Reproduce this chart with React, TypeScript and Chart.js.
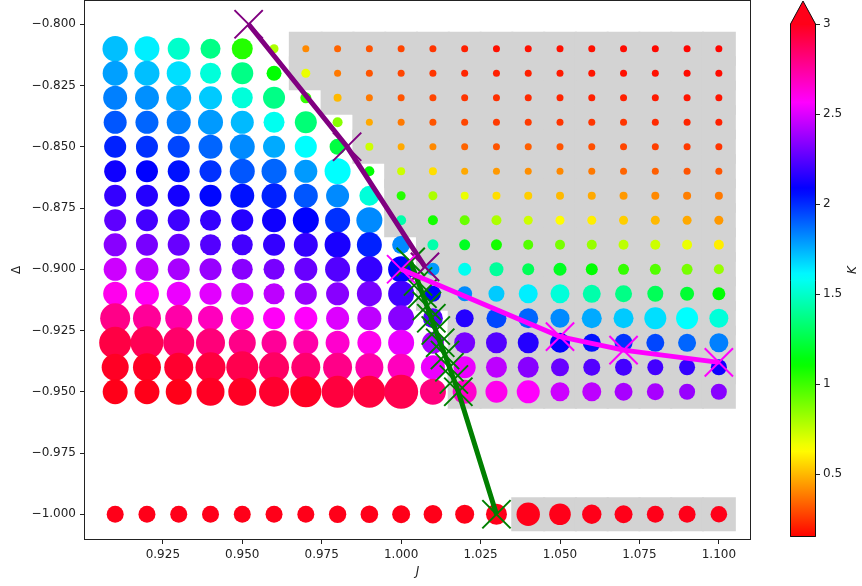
import React, { useEffect, useRef } from 'react';
import { Chart, registerables } from 'chart.js';

Chart.register(...registerables);

// ---------- data ----------
const J_VALUES = [0.91, 0.92, 0.93, 0.94, 0.95, 0.96, 0.97, 0.98, 0.99, 1.0, 1.01, 1.02, 1.03, 1.04, 1.05, 1.06, 1.07, 1.08, 1.09, 1.1];
const DELTA_ROWS = [-0.81, -0.82, -0.83, -0.84, -0.85, -0.86, -0.87, -0.88, -0.89, -0.9, -0.91, -0.92, -0.93, -0.94, -0.95];
const DELTA_BOTTOM = -1.0;

// K value of each grid point (rows = DELTA_ROWS, columns = J_VALUES)
const K_GRID = [
  [1.72, 1.63, 1.50, 1.37, 1.05, 0.79, 0.41, 0.34, 0.31, 0.28, 0.25, 0.21, 0.18, 0.18, 0.18, 0.18, 0.17, 0.165, 0.16, 0.16],
  [1.78, 1.72, 1.66, 1.53, 1.37, 1.12, 0.67, 0.38, 0.31, 0.28, 0.25, 0.22, 0.21, 0.21, 0.20, 0.19, 0.18, 0.18, 0.17, 0.17],
  [1.84, 1.81, 1.76, 1.70, 1.53, 1.37, 1.02, 0.50, 0.38, 0.31, 0.28, 0.25, 0.24, 0.23, 0.22, 0.21, 0.21, 0.20, 0.19, 0.19],
  [1.92, 1.89, 1.84, 1.79, 1.73, 1.57, 1.34, 0.86, 0.47, 0.38, 0.31, 0.28, 0.26, 0.26, 0.25, 0.25, 0.25, 0.23, 0.22, 0.21],
  [2.02, 1.99, 1.95, 1.89, 1.82, 1.76, 1.60, 1.24, 0.73, 0.47, 0.41, 0.34, 0.31, 0.33, 0.31, 0.30, 0.28, 0.27, 0.26, 0.25],
  [2.11, 2.08, 2.05, 1.99, 1.92, 1.89, 1.79, 1.60, 1.12, 0.73, 0.57, 0.47, 0.44, 0.42, 0.41, 0.38, 0.34, 0.33, 0.31, 0.31],
  [2.18, 2.15, 2.12, 2.07, 2.05, 2.02, 1.92, 1.82, 1.53, 1.05, 0.79, 0.67, 0.57, 0.54, 0.50, 0.47, 0.44, 0.41, 0.39, 0.38],
  [2.26, 2.21, 2.20, 2.18, 2.15, 2.11, 2.08, 1.99, 1.82, 1.44, 1.08, 0.92, 0.79, 0.73, 0.63, 0.60, 0.54, 0.50, 0.47, 0.44],
  [2.34, 2.31, 2.28, 2.24, 2.21, 2.18, 2.18, 2.13, 2.02, 1.82, 1.44, 1.18, 1.08, 0.96, 0.89, 0.83, 0.76, 0.73, 0.67, 0.60],
  [2.47, 2.44, 2.40, 2.37, 2.34, 2.31, 2.28, 2.24, 2.18, 2.08, 1.79, 1.57, 1.41, 1.28, 1.18, 1.12, 1.02, 0.96, 0.89, 0.83],
  [2.60, 2.58, 2.53, 2.51, 2.47, 2.44, 2.37, 2.34, 2.31, 2.21, 2.08, 1.82, 1.70, 1.63, 1.53, 1.44, 1.37, 1.28, 1.21, 1.12],
  [2.79, 2.76, 2.73, 2.69, 2.63, 2.58, 2.57, 2.50, 2.44, 2.34, 2.24, 2.15, 1.95, 1.89, 1.82, 1.76, 1.70, 1.66, 1.60, 1.53],
  [2.92, 2.89, 2.85, 2.82, 2.79, 2.76, 2.73, 2.66, 2.60, 2.53, 2.40, 2.31, 2.24, 2.15, 2.08, 2.05, 1.99, 1.95, 1.89, 1.84],
  [2.98, 2.98, 2.96, 2.93, 2.90, 2.86, 2.84, 2.79, 2.73, 2.69, 2.53, 2.53, 2.44, 2.34, 2.28, 2.24, 2.21, 2.21, 2.18, 2.11],
  [3.00, 3.00, 3.00, 2.98, 2.98, 2.96, 2.98, 2.93, 2.93, 2.90, 2.81, 2.66, 2.60, 2.57, 2.47, 2.44, 2.40, 2.40, 2.37, 2.34],
];
const K_BOTTOM = [3.0, 3.0, 3.0, 3.0, 3.0, 3.0, 3.0, 3.0, 3.0, 3.0, 3.0, 3.0, 3.0, 3.0, 3.0, 3.0, 3.0, 3.0, 3.0, 3.0];

// marker magnitude of each grid point (same layout as K_GRID)
const W_GRID = [
  [1.27, 1.25, 1.10, 1.00, 1.05, 0.45, 0.35, 0.35, 0.35, 0.35, 0.35, 0.35, 0.35, 0.35, 0.35, 0.35, 0.35, 0.35, 0.35, 0.35],
  [1.25, 1.25, 1.20, 1.05, 1.10, 0.75, 0.45, 0.35, 0.35, 0.35, 0.35, 0.35, 0.35, 0.35, 0.35, 0.35, 0.35, 0.35, 0.35, 0.35],
  [1.20, 1.20, 1.25, 1.15, 1.05, 1.10, 0.55, 0.40, 0.35, 0.35, 0.35, 0.35, 0.35, 0.35, 0.35, 0.35, 0.35, 0.35, 0.35, 0.35],
  [1.15, 1.15, 1.20, 1.25, 1.15, 1.05, 1.10, 0.50, 0.35, 0.35, 0.35, 0.35, 0.35, 0.35, 0.35, 0.35, 0.35, 0.35, 0.35, 0.35],
  [1.10, 1.10, 1.10, 1.20, 1.25, 1.10, 1.10, 0.80, 0.40, 0.35, 0.35, 0.35, 0.35, 0.35, 0.35, 0.35, 0.35, 0.35, 0.35, 0.35],
  [1.10, 1.10, 1.10, 1.10, 1.25, 1.25, 1.15, 1.30, 0.50, 0.40, 0.40, 0.35, 0.35, 0.35, 0.35, 0.35, 0.35, 0.35, 0.35, 0.35],
  [1.10, 1.10, 1.10, 1.10, 1.20, 1.25, 1.20, 1.15, 1.00, 0.45, 0.45, 0.40, 0.40, 0.40, 0.40, 0.40, 0.40, 0.40, 0.40, 0.40],
  [1.10, 1.10, 1.10, 1.05, 1.10, 1.20, 1.30, 1.25, 1.30, 0.50, 0.50, 0.50, 0.50, 0.45, 0.45, 0.45, 0.45, 0.45, 0.45, 0.45],
  [1.15, 1.10, 1.10, 1.05, 1.05, 1.10, 1.20, 1.30, 1.25, 0.90, 0.55, 0.55, 0.55, 0.50, 0.50, 0.50, 0.50, 0.50, 0.50, 0.50],
  [1.15, 1.15, 1.10, 1.10, 1.05, 1.05, 1.15, 1.25, 1.30, 1.30, 0.65, 0.65, 0.70, 0.60, 0.65, 0.60, 0.55, 0.55, 0.55, 0.50],
  [1.20, 1.20, 1.20, 1.10, 1.10, 1.05, 1.10, 1.15, 1.25, 1.30, 0.80, 0.75, 0.80, 0.95, 0.95, 0.90, 0.85, 0.80, 0.70, 0.65],
  [1.50, 1.40, 1.35, 1.25, 1.15, 1.10, 1.15, 1.15, 1.20, 1.30, 1.00, 0.90, 1.00, 1.00, 0.95, 1.00, 1.00, 1.10, 1.10, 0.95],
  [1.60, 1.65, 1.55, 1.45, 1.35, 1.25, 1.25, 1.20, 1.20, 1.30, 1.10, 1.05, 1.05, 1.05, 1.00, 0.90, 0.90, 0.90, 0.90, 0.95],
  [1.35, 1.40, 1.45, 1.50, 1.60, 1.50, 1.45, 1.45, 1.40, 1.35, 1.20, 1.10, 1.05, 1.05, 0.90, 0.85, 0.85, 0.80, 0.80, 0.80],
  [1.25, 1.25, 1.30, 1.40, 1.40, 1.50, 1.55, 1.60, 1.60, 1.70, 1.30, 1.20, 1.10, 1.15, 0.95, 0.95, 0.90, 0.85, 0.80, 0.80],
];
const W_BOTTOM = [0.85, 0.85, 0.85, 0.85, 0.85, 0.85, 0.85, 0.87, 0.88, 0.90, 0.93, 0.95, 1.05, 1.17, 1.08, 0.97, 0.90, 0.85, 0.85, 0.83];

// shaded region: first J of each row that is shaded (up to the last J)
const GRAY_START_J = [0.97, 0.97, 0.98, 0.99, 0.99, 1.0, 1.0, 1.0, 1.01, 1.01, 1.01, 1.02, 1.02, 1.02, 1.02];
const GRAY_BOTTOM_START_J = 1.04;

// boundary lines
const PURPLE_J = [0.952, 0.983, 1.0075];
const PURPLE_D = [-0.8, -0.85, -0.899];
const GREEN_J = [1.003, 1.0053, 1.0067, 1.0081, 1.0095, 1.0109, 1.0123, 1.0138, 1.0152, 1.0166, 1.018, 1.03];
const GREEN_D = [-0.897, -0.905, -0.91, -0.915, -0.92, -0.925, -0.93, -0.935, -0.94, -0.945, -0.95, -1.0];
const MAGENTA_J = [1.0, 1.05, 1.07, 1.1];
const MAGENTA_D = [-0.9, -0.9275, -0.933, -0.938];

const X_TICKS = [0.925, 0.95, 0.975, 1.0, 1.025, 1.05, 1.075, 1.1];
const Y_TICKS = [-1.0, -0.975, -0.95, -0.925, -0.9, -0.875, -0.85, -0.825, -0.8];
const CB_TICKS = [0.5, 1, 1.5, 2, 2.5, 3];
const K_MIN = 0.15;
const K_MAX = 3.0;

// ---------- styling helpers ----------
const FONT = 'DejaVu Sans';
const TEXT = '#222';
const RADIUS_UNIT = 10;

function kColor(k: number): string {
  const t = Math.min(1, Math.max(0, (k - K_MIN) / (K_MAX - K_MIN)));
  return `hsl(${(354 * t).toFixed(2)}, 100%, 50%)`;
}

function pts(xs: number[], ys: number[]) {
  return xs.map((x, i) => ({ x, y: ys[i] }));
}

export default function App() {
  const mainRef = useRef<HTMLCanvasElement>(null);
  const cbRef = useRef<HTMLCanvasElement>(null);

  useEffect(() => {
    document.body.style.margin = '0';

    // gray squares
    const grayPts: { x: number; y: number }[] = [];
    DELTA_ROWS.forEach((d, r) => {
      J_VALUES.forEach((j) => {
        if (j >= GRAY_START_J[r] - 1e-9) grayPts.push({ x: j, y: d });
      });
    });
    J_VALUES.forEach((j) => {
      if (j >= GRAY_BOTTOM_START_J - 1e-9) grayPts.push({ x: j, y: DELTA_BOTTOM });
    });

    // dots
    const dotPts: { x: number; y: number }[] = [];
    const dotColors: string[] = [];
    const dotRadii: number[] = [];
    DELTA_ROWS.forEach((d, r) => {
      J_VALUES.forEach((j, c) => {
        dotPts.push({ x: j, y: d });
        dotColors.push(kColor(K_GRID[r][c]));
        dotRadii.push(W_GRID[r][c] * RADIUS_UNIT);
      });
    });
    J_VALUES.forEach((j, c) => {
      dotPts.push({ x: j, y: DELTA_BOTTOM });
      dotColors.push(kColor(K_BOTTOM[c]));
      dotRadii.push(W_BOTTOM[c] * RADIUS_UNIT);
    });

    const lineDs = (data: any[], color: string, order: number) => ({
      data,
      showLine: true,
      borderColor: color,
      borderWidth: 5,
      tension: 0,
      fill: false,
      pointStyle: 'crossRot',
      pointRadius: 20,
      pointHoverRadius: 20,
      pointBorderColor: color,
      pointBorderWidth: 2,
      pointBackgroundColor: color,
      order,
    });

    const spinePlugin = {
      id: 'spines',
      afterDraw(chart: any) {
        const { ctx, chartArea: a } = chart;
        ctx.save();
        ctx.strokeStyle = TEXT;
        ctx.lineWidth = 1;
        ctx.strokeRect(Math.round(a.left) - 0.5, Math.round(a.top) - 0.5, Math.round(a.right - a.left) + 1, Math.round(a.bottom - a.top) + 1);
        ctx.restore();
      },
    };

    const tickFont = { family: FONT, size: 12 };

    const main = new Chart(mainRef.current as HTMLCanvasElement, {
      type: 'scatter',
      data: {
        datasets: [
          {
            data: grayPts,
            pointStyle: 'rect',
            pointRadius: 24,
            pointHoverRadius: 24,
            pointBackgroundColor: '#d3d3d3',
            pointBorderWidth: 0,
            order: 10,
          } as any,
          {
            data: dotPts,
            pointStyle: 'circle',
            pointRadius: dotRadii,
            pointHoverRadius: dotRadii,
            pointBackgroundColor: dotColors,
            pointBorderWidth: 0,
            order: 5,
          } as any,
          lineDs(pts(GREEN_J, GREEN_D), '#008000', 3) as any,
          lineDs(pts(PURPLE_J, PURPLE_D), '#800080', 2) as any,
          lineDs(pts(MAGENTA_J, MAGENTA_D), '#ff00ff', 1) as any,
        ],
      },
      options: {
        animation: false,
        responsive: false,
        events: [],
        layout: { autoPadding: false, padding: { left: 0, top: 1, right: 112, bottom: 0 } },
        plugins: { legend: { display: false }, tooltip: { enabled: false } },
        scales: {
          x: {
            type: 'linear',
            min: 0.9005,
            max: 1.1098,
            afterBuildTicks: (s: any) => {
              s.ticks = X_TICKS.map((v) => ({ value: v }));
            },
            afterFit: (s: any) => {
              s.height = 47;
              s.paddingLeft = 0;
              s.paddingRight = 0;
            },
            ticks: {
              font: tickFont,
              color: TEXT,
              padding: 4,
              autoSkip: false,
              maxRotation: 0,
              callback: (v: any) => Number(v).toFixed(3),
            },
            grid: { drawOnChartArea: false, drawTicks: true, tickLength: 5, color: TEXT },
            border: { display: false },
            title: {
              display: true,
              text: 'J',
              color: TEXT,
              font: { family: FONT, size: 12, style: 'italic' },
              padding: { top: 0, bottom: 7 },
            },
          },
          y: {
            type: 'linear',
            min: -1.0101,
            max: -0.7905,
            afterBuildTicks: (s: any) => {
              s.ticks = Y_TICKS.map((v) => ({ value: v }));
            },
            afterFit: (s: any) => {
              s.width = 85;
              s.paddingTop = 0;
              s.paddingBottom = 0;
            },
            ticks: {
              font: tickFont,
              color: TEXT,
              padding: 4,
              autoSkip: false,
              callback: (v: any) => {
                const n = Number(v);
                return (n < 0 ? '\u2212' : '') + Math.abs(n).toFixed(3);
              },
            },
            grid: { drawOnChartArea: false, drawTicks: true, tickLength: 5, color: TEXT },
            border: { display: false },
            title: {
              display: true,
              text: '\u0394',
              color: TEXT,
              font: { family: FONT, size: 12 },
              padding: { top: 10, bottom: 0 },
            },
          },
        },
      } as any,
      plugins: [spinePlugin],
    });

    const cbPlugin = {
      id: 'colorbar',
      afterDraw(chart: any) {
        const { ctx, chartArea: a } = chart;
        const left = Math.round(a.left);
        const right = Math.round(a.right);
        const top = Math.round(a.top);
        const bottom = Math.round(a.bottom);
        ctx.save();
        const g = ctx.createLinearGradient(0, bottom, 0, top);
        const n = 72;
        for (let i = 0; i <= n; i++) {
          g.addColorStop(i / n, kColor(K_MIN + ((K_MAX - K_MIN) * i) / n));
        }
        ctx.fillStyle = g;
        ctx.fillRect(left, top, right - left, bottom - top);
        // extension triangle (over)
        const tipY = 1;
        ctx.fillStyle = kColor(K_MAX + 1);
        ctx.beginPath();
        ctx.moveTo(left, top + 0.5);
        ctx.lineTo((left + right) / 2, tipY);
        ctx.lineTo(right, top + 0.5);
        ctx.closePath();
        ctx.fill();
        // outline
        ctx.strokeStyle = '#111';
        ctx.lineWidth = 1;
        ctx.beginPath();
        ctx.moveTo(left + 0.5, bottom - 0.5);
        ctx.lineTo(left + 0.5, top);
        ctx.lineTo((left + right) / 2, tipY);
        ctx.lineTo(right - 0.5, top);
        ctx.lineTo(right - 0.5, bottom - 0.5);
        ctx.closePath();
        ctx.stroke();
        // label
        ctx.fillStyle = TEXT;
        ctx.font = `italic 12px "${FONT}"`;
        ctx.textAlign = 'center';
        ctx.textBaseline = 'middle';
        ctx.translate(93, 270);
        ctx.rotate(-Math.PI / 2);
        ctx.fillText('K', 0, 0);
        ctx.restore();
      },
    };

    const cb = new Chart(cbRef.current as HTMLCanvasElement, {
      type: 'scatter',
      data: { datasets: [] },
      options: {
        animation: false,
        responsive: false,
        events: [],
        layout: { autoPadding: false, padding: { left: 30, top: 24, right: 0, bottom: 49 } },
        plugins: { legend: { display: false }, tooltip: { enabled: false } },
        scales: {
          x: { display: false, min: 0, max: 1 },
          y: {
            type: 'linear',
            position: 'right',
            min: K_MIN,
            max: K_MAX,
            afterBuildTicks: (s: any) => {
              s.ticks = CB_TICKS.map((v) => ({ value: v }));
            },
            afterFit: (s: any) => {
              s.width = 46;
              s.paddingTop = 0;
              s.paddingBottom = 0;
            },
            ticks: {
              font: tickFont,
              color: TEXT,
              padding: 3,
              autoSkip: false,
              callback: (v: any) => String(Number(v)),
            },
            grid: { drawOnChartArea: false, drawTicks: true, tickLength: 4, color: TEXT },
            border: { display: false },
          },
        },
      } as any,
      plugins: [cbPlugin],
    });

    return () => {
      main.destroy();
      cb.destroy();
    };
  }, []);

  return (
    <div style={{ position: 'fixed', left: 0, top: 0, width: 862, height: 586, background: '#fff' }}>
      <canvas ref={mainRef} width={862} height={586} style={{ position: 'absolute', left: 0, top: 0, width: 862, height: 586 }} />
      <canvas ref={cbRef} width={102} height={586} style={{ position: 'absolute', left: 760, top: 0, width: 102, height: 586 }} />
    </div>
  );
}
